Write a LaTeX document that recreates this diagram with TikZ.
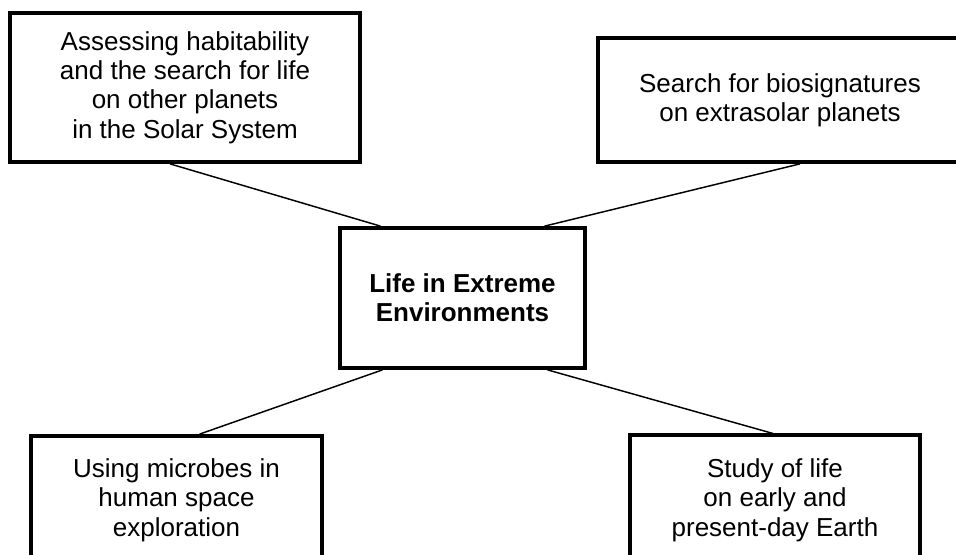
\documentclass[tikz,border=0pt]{standalone}
\usepackage{fontspec}
\setmainfont{Liberation Sans}
\usepackage{tikz}

\begin{document}
\begin{tikzpicture}[x=0.75pt, y=-0.75pt,
    topic/.style={draw, line width=2.8pt, align=center, inner sep=0pt,
      font=\fontsize{19.5}{22}\selectfont},
    link/.style={line width=1.1pt}]

  \clip (0,0) rectangle (956,554);

  % Boxes
  \node[topic, minimum width=262.5pt, minimum height=111.75pt] (habit) at (185,87.5)
    {Assessing habitability\\and the search for life\\on other planets\\in the Solar System};
  \node[topic, minimum width=273pt, minimum height=93pt] (biosig) at (780,100)
    {Search for biosignatures\\on extrasolar planets};
  \node[topic, minimum width=183.75pt, minimum height=105pt,
        font=\fontsize{19.5}{22}\selectfont\bfseries] (centre) at (462.5,298)
    {Life in Extreme\\Environments};
  \node[topic, minimum width=218.25pt, minimum height=96pt] (microbe) at (176.5,500)
    {Using microbes in\\human space\\exploration};
  \node[topic, minimum width=217.5pt, minimum height=97pt] (earth) at (775,500)
    {Study of life\\on early and\\present-day Earth};

  % Links
  \draw[link] ([shift={(-15,0)}]habit.south) -- ([shift={(-82,0)}]centre.north);
  \draw[link] ([shift={(20,0)}]biosig.south) -- ([shift={(82,0)}]centre.north);
  \draw[link] ([shift={(-80,0)}]centre.south) -- ([shift={(23,0)}]microbe.north);
  \draw[link] ([shift={(85,0)}]centre.south) -- ([shift={(-2,0)}]earth.north);
\end{tikzpicture}
\end{document}
